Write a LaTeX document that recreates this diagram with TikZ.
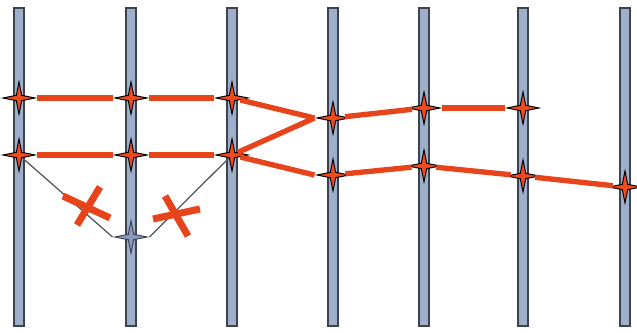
\documentclass[tikz,border=0pt]{standalone}
\usetikzlibrary{shapes.geometric}
\definecolor{barfill}{HTML}{9DAFCB}
\definecolor{barline}{HTML}{3C4350}
\definecolor{linkred}{HTML}{E8441C}
\definecolor{starred}{HTML}{EE4A1E}
\definecolor{spare}{HTML}{8D98BE}
\tikzset{
  pillar/.style={fill=barfill, draw=barline, line width=0.8pt},
  knot/.style={star, star points=4, star point ratio=4.2, minimum size=0.8cm,
    inner sep=0pt, fill=starred, draw=black, line width=0.7pt},
  spareknot/.style={knot, fill=spare, draw=barline},
  link/.style={draw=linkred, line width=3.8pt},
  oldlink/.style={draw=barline!90, line width=0.9pt},
  cross/.style={draw=linkred, line width=5pt}
}
\begin{document}
\begin{tikzpicture}[x=0.025cm, y=-0.025cm]
  \useasboundingbox (0,0) rectangle (637,333);

  % Pillars
  \foreach \px in {19,131,232,333,424,523,625}
    \draw[pillar] (\px-5,8) rectangle (\px+5,326);

  % Knots
  \node[knot] (a1) at (19,98) {};
  \node[knot] (a2) at (131,98) {};
  \node[knot] (a3) at (232,98) {};
  \node[knot] (b1) at (19,155) {};
  \node[knot] (b2) at (131,155) {};
  \node[knot] (b3) at (232,155) {};
  \node[knot] (c4) at (333,118) {};
  \node[knot] (d4) at (333,175) {};
  \node[knot] (c5) at (424,108) {};
  \node[knot] (d5) at (424,166) {};
  \node[knot] (c6) at (523,108) {};
  \node[knot] (d6) at (523,176) {};
  \node[knot] (d7) at (625,187) {};
  \node[spareknot] (low) at (131,237) {};

  % Old route
  \draw[oldlink] (b1) -- (low.west);
  \draw[oldlink] (low.east) -- (b3);

  % Crosses
  \draw[cross] (63,196) -- (110,218);
  \draw[cross] (100,187) -- (77,225);
  \draw[cross] (165,196) -- (188,236);
  \draw[cross] (153,219) -- (200,209);

  % New route
  \draw[link] (a1) -- (a2);
  \draw[link] (a2) -- (a3);
  \draw[link] (a3) -- (c4.west);
  \draw[link] (b1) -- (b2);
  \draw[link] (b2) -- (b3);
  \draw[link] (b3) -- (c4.west);
  \draw[link] (b3) -- (d4.west);
  \draw[link] (c4) -- (c5);
  \draw[link] (c5) -- (c6);
  \draw[link] (d4) -- (d5);
  \draw[link] (d5) -- (d6);
  \draw[link] (d6) -- (d7);
\end{tikzpicture}
\end{document}
